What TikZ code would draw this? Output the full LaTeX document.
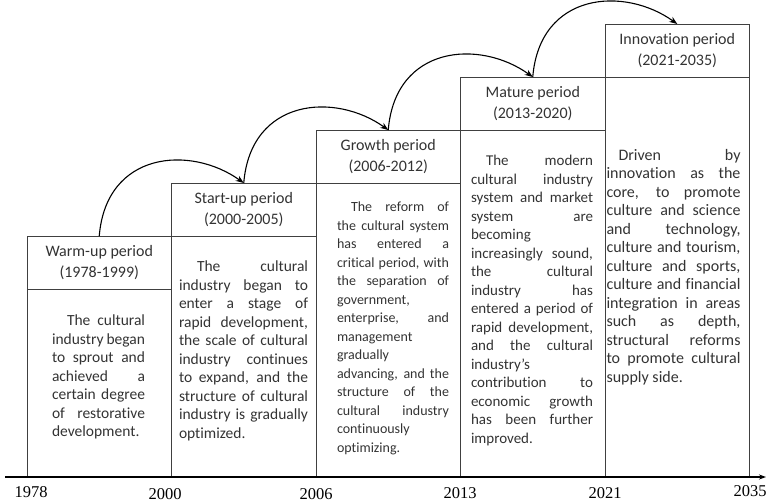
\documentclass[tikz,border=0pt]{standalone}
\usepackage{fontspec}
\setmainfont{Carlito}[Ligatures=NoCommon]
\newfontfamily\yearfont{Liberation Serif}
\usetikzlibrary{arrows.meta}
\begin{document}
\begin{tikzpicture}[x=1pt,y=-1pt,
    hdr/.style={draw=black!75, line width=0.8pt, outer sep=0pt, inner sep=0pt,
        minimum width=144.5pt, minimum height=53pt, align=center, text=black!80,
        font=\fontsize{16}{20.5}\selectfont},
    bodytext/.style={anchor=north, inner sep=0pt, text width=#1, align=justify, text=black!80,
        execute at begin node={\tolerance=10000\hbadness=10000\parindent=0pt}},
    box/.style={draw=black!75, line width=0.8pt},
    jump/.style={-{Stealth[length=8pt,width=6pt]}, line width=1.1pt},
    yearlab/.style={inner sep=0pt, font=\yearfont\fontsize{16.5}{16.5}\selectfont}]
    \useasboundingbox (0,0) rectangle (767,503);

    \coordinate (O) at (5,477);
    \coordinate (E) at (766,477);

    \node[hdr] (W) at (99.25,262.5) {Warm-up period\\(1978-1999)};
    \node[hdr] (S) at (243.75,209.5) {Start-up period\\(2000-2005)};
    \node[hdr] (G) at (388.25,156.5) {Growth period\\(2006-2012)};
    \node[hdr] (M) at (532.75,103.5) {Mature period\\(2013-2020)};
    \node[hdr] (I) at (677.25,50.5) {Innovation period\\(2021-2035)};

    \draw[box] (W.south west) rectangle (W.south east |- O);
    \draw[box] (S.south west) rectangle (S.south east |- O);
    \draw[box] (G.south west) rectangle (G.south east |- O);
    \draw[box] (M.south west) rectangle (M.south east |- O);
    \draw[box] (I.south west) rectangle (I.south east |- O);

    \draw[jump] (W.north) .. controls +(7,-85) and +(-53,-38) .. (S.north);
    \draw[jump] (S.north) .. controls +(7,-85) and +(-53,-38) .. (G.north);
    \draw[jump] (G.north) .. controls +(7,-85) and +(-53,-38) .. (M.north);
    \draw[jump] (M.north) .. controls +(7,-85) and +(-53,-38) .. (I.north);

    \node[bodytext=93pt, font=\fontsize{15.5}{18.5}\selectfont] (WW) at (98.5,315) {\hspace*{15pt}The cultural\linebreak
        industry began\linebreak to sprout and\linebreak achieved a\linebreak
        certain degree\linebreak of restorative\linebreak development.};
    \node[bodytext=129pt, font=\fontsize{15.5}{18.5}\selectfont] (SS) at (243.5,261) {\hspace*{18pt}The cultural\linebreak
        industry began to\linebreak enter a stage of\linebreak rapid development,\linebreak
        the scale of cultural\linebreak industry continues\linebreak to expand, and the\linebreak
        structure of cultural\linebreak industry is gradually\linebreak optimized.};
    \node[bodytext=112pt, font=\fontsize{14}{18.5}\selectfont] (GG) at (393,202) {\hspace*{14pt}The reform of\linebreak
        the cultural system\linebreak has entered a\linebreak critical period, with\linebreak
        the separation of\linebreak government,\linebreak enterprise, and\linebreak
        management\linebreak gradually\linebreak advancing, and the\linebreak
        structure of the\linebreak cultural industry\linebreak continuously\linebreak optimizing.};
    \node[bodytext=122pt, font=\fontsize{15}{18.5}\selectfont] (MM) at (532,155) {\hspace*{15pt}The modern\linebreak
        cultural industry\linebreak system and market\linebreak system are\linebreak
        becoming\linebreak increasingly sound,\linebreak the cultural\linebreak
        industry has\linebreak entered a period of\linebreak rapid development,\linebreak
        and the cultural\linebreak industry's\linebreak contribution to\linebreak
        economic growth\linebreak has been further\linebreak improved.};
    \node[bodytext=134pt, font=\fontsize{16}{18.5}\selectfont] (II) at (673.5,149) {\hspace*{12pt}Driven by\linebreak
        innovation as the\linebreak core, to promote\linebreak culture and science\linebreak
        and technology,\linebreak culture and tourism,\linebreak culture and sports,\linebreak
        culture and financial\linebreak integration in areas\linebreak such as depth,\linebreak
        structural reforms\linebreak to promote cultural\linebreak supply side.};

    \draw[line width=1.2pt, -{Stealth[length=7pt,width=5pt]}] (O) -- (E);

    \node[yearlab] (Y1) at (31,492) {1978};
    \node[yearlab] (Y2) at (165,494.5) {2000};
    \node[yearlab] (Y3) at (316,494.5) {2006};
    \node[yearlab] (Y4) at (460,493) {2013};
    \node[yearlab] (Y5) at (605,493) {2021};
    \node[yearlab] (Y6) at (750,491) {2035};
\end{tikzpicture}
\end{document}
